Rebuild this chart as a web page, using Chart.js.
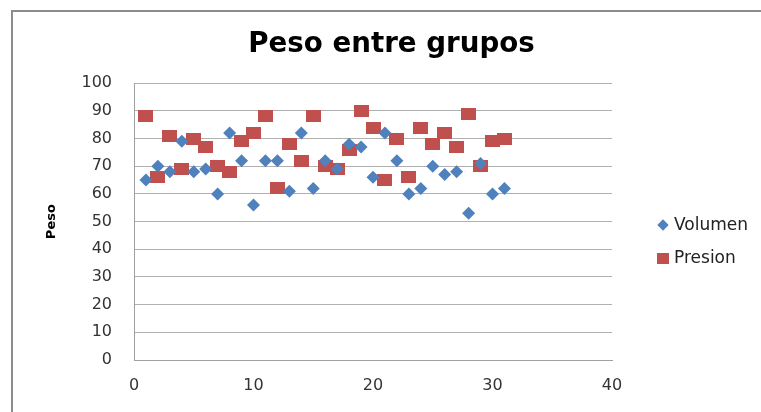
<!DOCTYPE html>
<html>
<head>
<meta charset="utf-8">
<script src="https://cdn.jsdelivr.net/npm/chart.js@4"></script>
<style>
  html, body { margin: 0; padding: 0; background: #fff; overflow: hidden; }
  #wrap { position: relative; width: 761px; height: 412px; }
  #frame { position: absolute; left: 11px; top: 10px; width: 800px; height: 450px; border: 2px solid #8c8c8c; box-sizing: border-box; }
  canvas { position: absolute; left: 0; top: 0; }
  .leg { position: absolute; left: 657px; font-family: "DejaVu Sans", sans-serif; font-size: 17px; color: #222; line-height: 20px; }
  .leg i { display: inline-block; vertical-align: middle; margin-right: 5px; }
  .dia { width: 8px; height: 8px; background: #4f81bd; transform: rotate(45deg); margin-left: 2px; margin-right: 7px !important; }
  .sq { width: 12px; height: 11px; background: #c0504d; }
</style>
</head>
<body>
<div id="wrap">
  <div id="frame"></div>
  <canvas id="chart" width="761" height="412"></canvas>
  <div class="leg" style="top:214px"><i class="dia"></i>Volumen</div>
  <div class="leg" style="top:247px"><i class="sq"></i>Presion</div>
</div>
<script>
// x positions (sample number)
const muestras = [1,2,3,4,5,6,7,8,9,10,11,12,13,14,15,16,17,18,19,20,21,22,23,24,25,26,27,28,29,30,31];
const volumen = [65,70,68,79,68,69,60,82,72,56,72,72,61,82,62,72,69,78,77,66,82,72,60,62,70,67,68,53,71,60,62];
const presion = [88,66,81,69,80,77,70,68,79,82,88,62,78,72,88,70,69,76,90,84,65,80,66,84,78,82,77,89,70,79,80];
const xTicks = [0, 10, 20, 30, 40];
const yTicks = [0, 10, 20, 30, 40, 50, 60, 70, 80, 90, 100];

const toPoints = vals => vals.map((v, i) => ({ x: muestras[i], y: v }));

// square marker is a bit wider than tall in the picture
const sq = document.createElement('canvas');
sq.width = 15; sq.height = 12;
const sctx = sq.getContext('2d');
sctx.fillStyle = '#c0504d';
sctx.fillRect(0, 0, 15, 12);

new Chart(document.getElementById('chart'), {
  type: 'scatter',
  data: {
    datasets: [
      {
        label: 'Volumen',
        data: toPoints(volumen),
        pointStyle: 'rectRot',
        pointRadius: 6.5,
        backgroundColor: '#4f81bd',
        borderColor: '#4f81bd',
        borderWidth: 0
      },
      {
        label: 'Presion',
        data: toPoints(presion),
        pointStyle: sq,
        backgroundColor: '#c0504d',
        borderColor: '#c0504d'
      }
    ]
  },
  options: {
    responsive: false,
    animation: false,
    events: [],
    layout: { padding: { left: 22, right: 0, top: 0, bottom: 0 } },
    plugins: {
      legend: { display: false },
      tooltip: { enabled: false },
      title: {
        display: true,
        text: 'Peso entre grupos',
        color: '#000',
        font: { family: 'DejaVu Sans', size: 27.7, weight: 'bold' },
        padding: { top: 28, bottom: 22 }
      }
    },
    scales: {
      x: {
        type: 'linear',
        min: 0,
        max: 40,
        afterBuildTicks: s => { s.ticks = xTicks.map(v => ({ value: v })); },
        afterFit: s => { s.height = 52; },
        grid: { display: false, drawTicks: false },
        border: { display: true, color: '#a0a0a0', width: 1 },
        ticks: { color: '#333', padding: 16, font: { family: 'DejaVu Sans', size: 16 } }
      },
      y: {
        min: 0,
        max: 100,
        afterBuildTicks: s => { s.ticks = yTicks.map(v => ({ value: v })); },
        afterFit: s => { s.width = 112; },
        grid: { color: '#b0b0b0', drawTicks: false },
        border: { display: true, color: '#a0a0a0', width: 1 },
        ticks: { color: '#333', padding: 22, font: { family: 'DejaVu Sans', size: 16 } },
        title: {
          display: true,
          text: 'Peso',
          color: '#000',
          font: { family: 'DejaVu Sans', size: 13, weight: 'bold' },
          padding: { top: 22, bottom: 4 }
        }
      },
      // empty right axis that keeps room for the legend
      yRoom: {
        position: 'right',
        display: true,
        afterFit: s => { s.width = 149; },
        grid: { display: false, drawTicks: false },
        border: { display: false },
        ticks: { display: false }
      }
    }
  }
});
</script>
</body>
</html>
